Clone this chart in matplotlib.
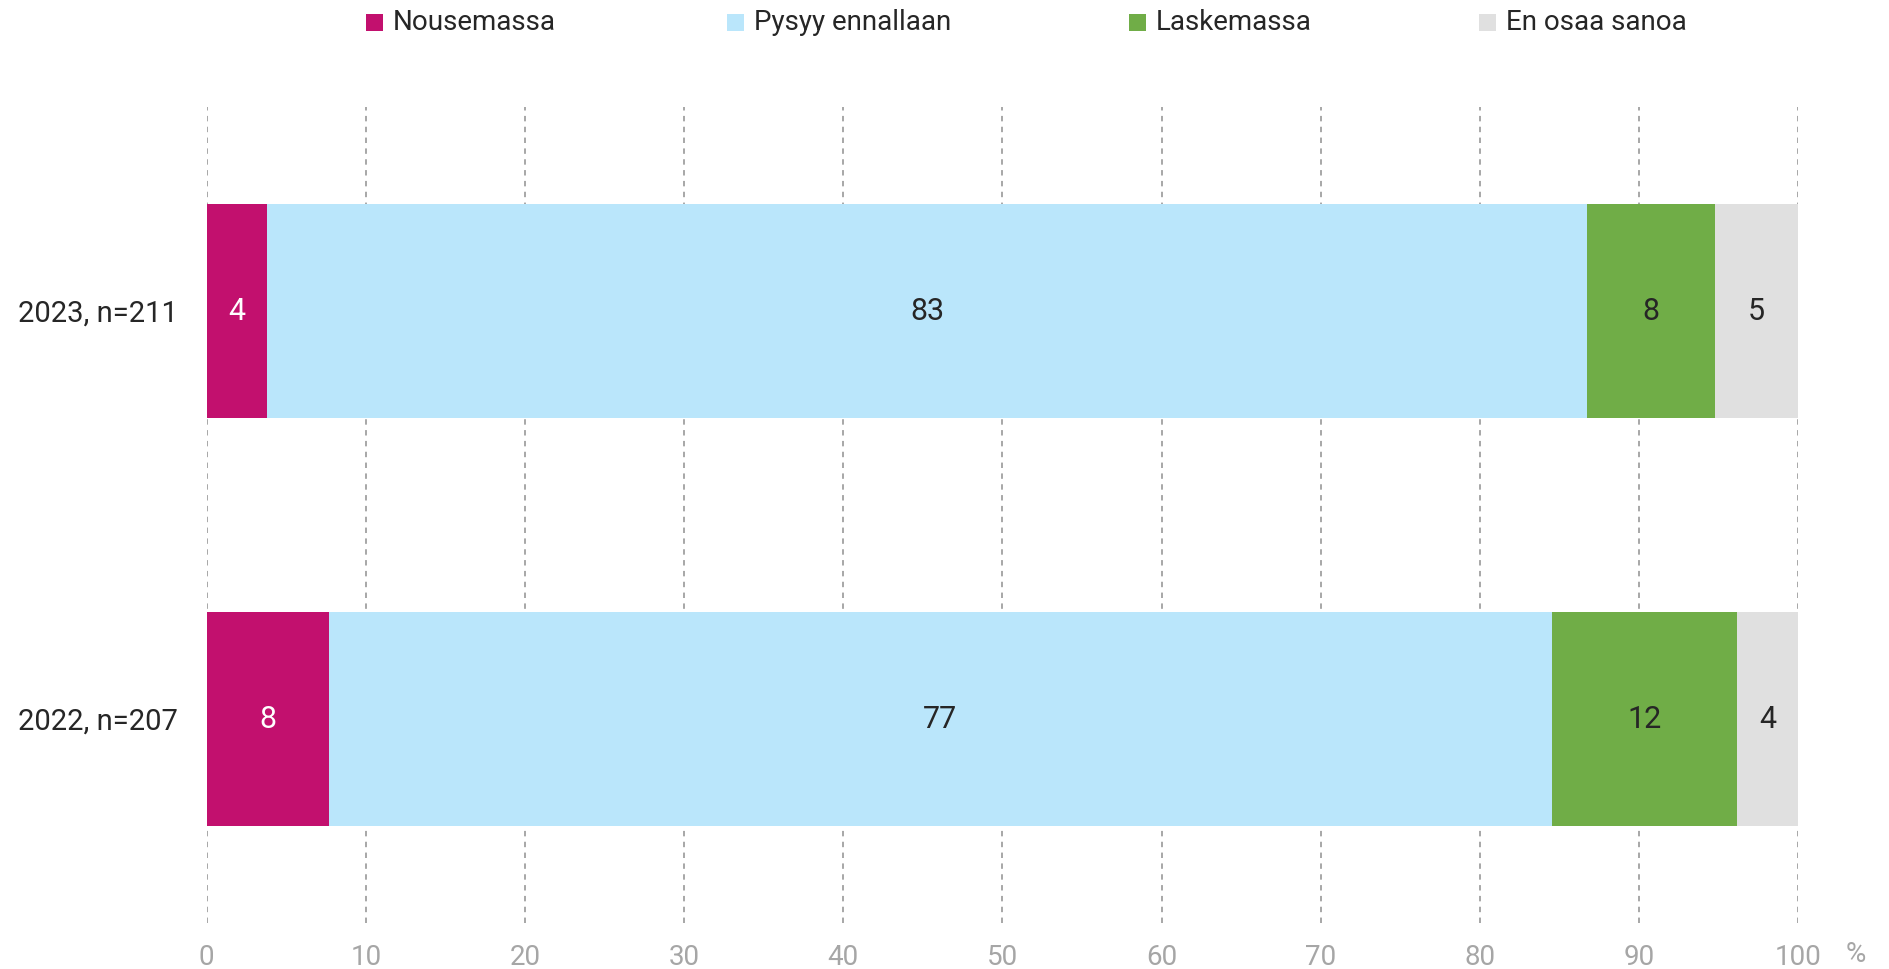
import matplotlib
matplotlib.use("Agg")
import matplotlib.pyplot as plt
from matplotlib.patches import Rectangle

plt.rcParams['font.family'] = ['Roboto', 'DejaVu Sans']

# Survey results (share of respondents, %)
groups = ["2023, n=211", "2022, n=207"]
series = ["Nousemassa", "Pysyy ennallaan", "Laskemassa", "En osaa sanoa"]
nousemassa = [3.77, 7.69]
pysyy = [82.97, 76.81]
laskemassa = [8.03, 11.65]
en_osaa = [5.23, 3.85]
xticks = [0, 10, 20, 30, 40, 50, 60, 70, 80, 90, 100]

colors = ["#C2106E", "#BAE6FB", "#70AD47", "#E0E0E0"]
label_colors = ["white", "#262626", "#262626", "#262626"]

W, H = 1890, 969
fig = plt.figure(figsize=(W / 100, H / 100), dpi=100)
ax = fig.add_axes([206.7 / W, 1 - 923 / H, 1591.6 / W, 816 / H])

ypos = [1, 0]
left = [0.0, 0.0]
for vals, col, lcol in zip([nousemassa, pysyy, laskemassa, en_osaa], colors, label_colors):
    ax.barh(ypos, vals, left=left, height=0.525, color=col, edgecolor="none", zorder=2)
    for y, l, v in zip(ypos, left, vals):
        ax.text(l + v / 2, y, f"{round(v):d}", ha="center", va="center",
                fontsize=22, color=lcol, zorder=3)
    left = [a + b for a, b in zip(left, vals)]

ax.set_xlim(0, 100)
ax.set_ylim(-0.5, 1.5)
ax.set_xticks(xticks)
ax.set_xticklabels([str(t) for t in xticks])
ax.set_yticks(ypos)
ax.set_yticklabels(groups)
ax.tick_params(axis="x", length=0, pad=15, labelsize=20, labelcolor="#A6A6A6")
ax.tick_params(axis="y", length=0, pad=21, labelsize=21, labelcolor="#262626")
ax.grid(axis="x", color="#A0A0A0", linestyle=(0, (3, 3)), linewidth=1.3, zorder=1)
ax.set_axisbelow(True)
for s in ax.spines.values():
    s.set_visible(False)

fig.text(1856 / W, 1 - 955 / H, "%", ha="center", va="center", fontsize=20, color="#A6A6A6")

# Legend row at the top
legend_x = [366, 727, 1129, 1479]
for x, name, col in zip(legend_x, series, colors):
    fig.add_artist(Rectangle((x / W, 1 - 31 / H), 17 / W, 17 / H,
                             transform=fig.transFigure, color=col, lw=0))
    fig.text((x + 27) / W, 1 - 22 / H, name, ha="left", va="center",
             fontsize=20, color="#262626")

fig.savefig("out.png", dpi=100, facecolor="white")
